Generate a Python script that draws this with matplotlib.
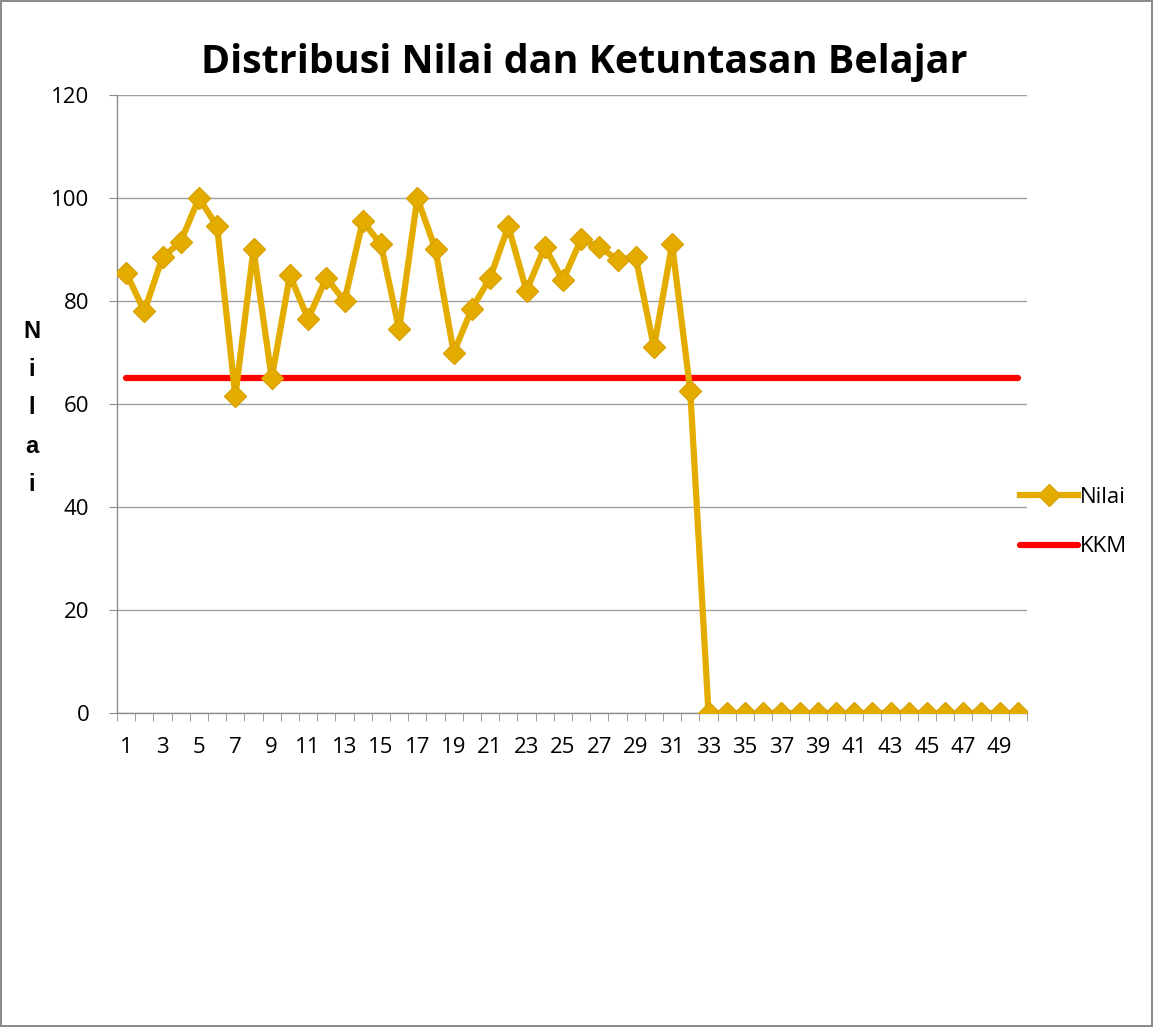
import matplotlib
matplotlib.use("Agg")
import matplotlib.pyplot as plt
import numpy as np

students = list(range(1, 51))
nilai = [85.5, 78, 88.5, 91.5, 100, 94.5, 61.5, 90, 65, 85,
         76.5, 84.5, 80, 95.5, 91, 74.5, 100, 90, 70, 78.5,
         84.5, 94.5, 82, 90.5, 84, 92, 90.5, 88, 88.5, 71,
         91, 62.5] + [0] * 18
kkm = [65] * 50
yticks = [0, 20, 40, 60, 80, 100, 120]
xtick_labels = [str(i) for i in range(1, 51, 2)]

plt.rcParams['font.family'] = ['Open Sans', 'DejaVu Sans']

fig = plt.figure(figsize=(11.53, 10.27), dpi=100)
fig.patch.set_edgecolor('#8c8c8c')
fig.patch.set_linewidth(1.5)
ax = fig.add_axes([117/1153, 1 - 713/1027, (1027 - 117)/1153, (713 - 95)/1027])

gold = '#E5AC00'
l1, = ax.plot(students, nilai, color=gold, lw=4.5, marker='D', markersize=11.5,
              markerfacecolor=gold, markeredgecolor='#D9A200', label='Nilai', zorder=3)
l2, = ax.plot(students, kkm, color='#FF0000', lw=4.5, solid_capstyle='round', label='KKM', zorder=2)

ax.set_xlim(0.5, 50.5)
ax.set_ylim(0, 120)
ax.set_yticks(yticks)
ax.set_yticklabels([str(v) for v in yticks], fontsize=16)
ax.set_xticks(list(range(1, 51, 2)))
ax.set_xticklabels(xtick_labels, fontsize=16)
ax.set_xticks(np.arange(0.5, 51, 1), minor=True)
ax.tick_params(axis='x', which='major', length=0, pad=17)
ax.tick_params(axis='x', which='minor', length=6, color='#8c8c8c', direction='out')
ax.tick_params(axis='y', length=6, color='#8c8c8c', direction='out', pad=14)
ax.grid(axis='y', color='#a0a0a0', lw=1)
ax.set_axisbelow(True)
for s in ['top', 'right']:
    ax.spines[s].set_visible(False)
for s in ['left', 'bottom']:
    ax.spines[s].set_color('#8c8c8c')
    ax.spines[s].set_linewidth(1)

fig.text(584/1153, 1 - 62/1027, 'Distribusi Nilai dan Ketuntasan Belajar', ha='center', va='center',
         fontsize=28.4, fontweight='bold')
fig.text(32/1153, 1 - 408/1027, 'N\ni\nl\na\ni', ha='center', va='center', fontsize=17,
         fontweight='bold', linespacing=1.85, family=['Liberation Sans', 'DejaVu Sans'])

fig.legend(handles=[l1, l2], labels=['Nilai', 'KKM'], loc='center left',
           bbox_to_anchor=(1000/1153, 1 - 522/1027), frameon=False, fontsize=16,
           handlelength=2.6, labelspacing=1.3, handletextpad=0.1)

fig.savefig('out.png', dpi=100, edgecolor=fig.get_edgecolor())
